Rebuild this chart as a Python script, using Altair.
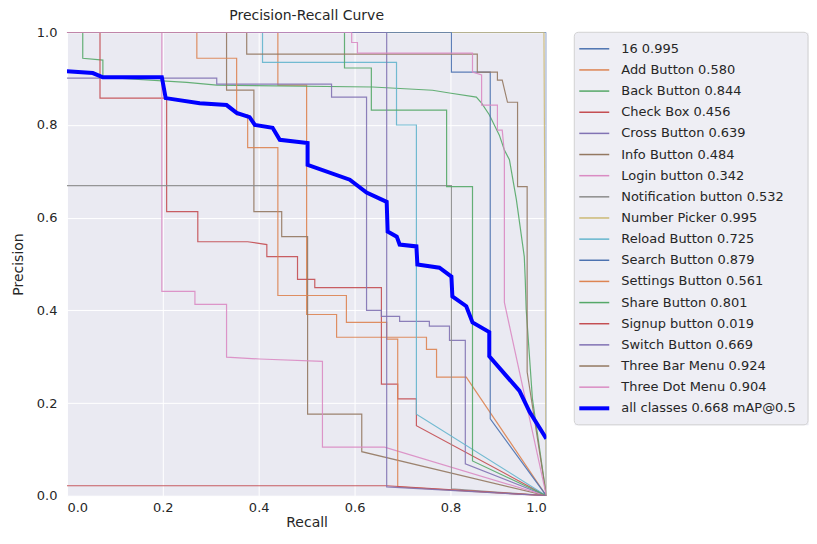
import altair as alt
import pandas as pd

# ---------------- data ----------------
CLASSES = ["16", "Add Button", "Back Button", "Check Box", "Cross Button",
           "Info Button", "Login button", "Notification button", "Number Picker",
           "Reload Button", "Search Button", "Settings Button", "Share Button",
           "Signup button", "Switch Button", "Three Bar Menu", "Three Dot Menu"]
AP = [0.995, 0.580, 0.844, 0.456, 0.639, 0.484, 0.342, 0.532, 0.995,
      0.725, 0.879, 0.561, 0.801, 0.019, 0.669, 0.924, 0.904]
COLORS = ["#4C72B0", "#DD8452", "#55A868", "#C44E52", "#8172B3", "#937860",
          "#DA8BC3", "#8C8C8C", "#CCB974", "#64B5CD", "#4C72B0", "#DD8452",
          "#55A868", "#C44E52", "#8172B3", "#937860", "#DA8BC3"]

R_16 = [0.0, 1.0, 1.0]
P_16 = [1.0, 1.0, 0.0]

R_ADD = [0.0, 0.440, 0.440, 0.500, 0.500, 0.5625, 0.5625, 0.750, 0.750, 0.771, 0.771, 0.833, 1.0]
P_ADD = [1.0, 1.0, 0.886, 0.886, 0.391, 0.391, 0.342, 0.342, 0.316, 0.316, 0.256, 0.256, 0.0]

R_BACK = [0.0, 0.033, 0.033, 0.075, 0.075, 0.250, 0.3125, 0.6375, 0.7625, 0.798, 0.854, 0.865,
          0.881, 0.902, 0.9125, 0.923, 0.9375, 0.954, 0.956, 0.958, 0.971, 1.0]
P_BACK = [1.0, 1.0, 0.944, 0.940, 0.903, 0.892, 0.886, 0.882, 0.875, 0.869, 0.860, 0.847,
          0.822, 0.778, 0.746, 0.725, 0.639, 0.516, 0.467, 0.402, 0.209, 0.0]

R_CHECK = [0.0, 0.069, 0.069, 0.208, 0.208, 0.273, 0.273, 0.377, 0.417, 0.417, 0.481, 0.481,
           0.517, 0.517, 0.656, 0.656, 0.690, 0.690, 0.729, 0.729, 1.0]
P_CHECK = [1.0, 1.0, 0.858, 0.858, 0.613, 0.613, 0.548, 0.548, 0.542, 0.516, 0.516, 0.467,
           0.467, 0.449, 0.449, 0.241, 0.241, 0.209, 0.209, 0.151, 0.0]

R_CROSS = [0.0, 0.3125, 0.3125, 0.552, 0.552, 0.625, 0.625, 0.656, 0.656, 0.694, 0.694, 0.756,
           0.756, 0.798, 0.798, 0.831, 0.831, 1.0]
P_CROSS = [0.901, 0.901, 0.888, 0.888, 0.860, 0.860, 0.400, 0.400, 0.387, 0.387, 0.376, 0.376,
           0.366, 0.366, 0.335, 0.335, 0.069, 0.0]

R_INFO = [0.0, 0.333, 0.333, 0.390, 0.390, 0.448, 0.448, 0.502, 0.502, 0.615, 0.615, 1.0]
P_INFO = [1.0, 1.0, 0.875, 0.875, 0.613, 0.613, 0.559, 0.559, 0.176, 0.176, 0.095, 0.0]

R_LOGIN = [0.0, 0.198, 0.198, 0.267, 0.267, 0.333, 0.333, 0.402, 0.533, 0.533, 0.6625, 1.0]
P_LOGIN = [1.0, 1.0, 0.441, 0.441, 0.413, 0.413, 0.299, 0.295, 0.290, 0.105, 0.105, 0.0]

R_NOTIF = [0.0, 0.802, 0.802, 1.0]
P_NOTIF = [0.669, 0.669, 0.015, 0.0]

R_NUMBER = [0.0, 0.995, 1.0]
P_NUMBER = [1.0, 1.0, 0.0]

R_RELOAD = [0.0, 0.408, 0.408, 0.6875, 0.6875, 0.729, 0.729, 1.0]
P_RELOAD = [1.0, 1.0, 0.935, 0.935, 0.800, 0.800, 0.176, 0.0]

R_SEARCH = [0.0, 0.802, 0.802, 0.883, 0.883, 1.0]
P_SEARCH = [1.0, 1.0, 0.914, 0.914, 0.166, 0.0]

R_SETTINGS = [0.0, 0.271, 0.271, 0.354, 0.354, 0.377, 0.377, 0.440, 0.440, 0.583, 0.583,
              0.667, 0.667, 0.690, 0.690, 1.0]
P_SETTINGS = [1.0, 1.0, 0.944, 0.944, 0.822, 0.822, 0.751, 0.751, 0.432, 0.432, 0.374,
              0.374, 0.338, 0.338, 0.019, 0.0]

R_SHARE = [0.0, 0.579, 0.579, 0.635, 0.635, 0.792, 0.792, 0.846, 0.846, 1.0]
P_SHARE = [1.0, 1.0, 0.923, 0.923, 0.832, 0.832, 0.667, 0.667, 0.075, 0.0]

R_SIGNUP = [0.0, 0.667, 1.0]
P_SIGNUP = [0.0215, 0.0215, 0.0]

R_SWITCH = [0.0, 0.667, 0.667, 1.0]
P_SWITCH = [1.0, 1.0, 0.019, 0.0]

R_THREEBAR = [0.0, 0.375, 0.375, 0.856, 0.856, 0.898, 0.898, 0.908, 0.919, 0.940, 0.940,
              0.960, 0.960, 1.0]
P_THREEBAR = [1.0, 1.0, 0.953, 0.953, 0.914, 0.914, 0.897, 0.897, 0.849, 0.849, 0.667,
              0.667, 0.267, 0.0]

R_THREEDOT = [0.0, 0.594, 0.594, 0.606, 0.606, 0.846, 0.846, 0.865, 0.865, 0.898, 0.898,
              0.908, 0.9125, 0.9125, 1.0]
P_THREEDOT = [1.0, 1.0, 0.978, 0.978, 0.955, 0.955, 0.914, 0.908, 0.843, 0.843, 0.789,
              0.789, 0.740, 0.417, 0.0]

R_MEAN = [0.0, 0.054, 0.075, 0.198, 0.206, 0.277, 0.333, 0.354, 0.381, 0.392, 0.429, 0.444,
          0.502, 0.502, 0.590, 0.625, 0.667, 0.669, 0.688, 0.694, 0.729, 0.731, 0.777, 0.802,
          0.804, 0.833, 0.846, 0.881, 0.881, 0.917, 0.944, 0.965, 1.0]
P_MEAN = [0.916, 0.912, 0.903, 0.903, 0.858, 0.847, 0.843, 0.826, 0.817, 0.800, 0.794, 0.768,
          0.761, 0.714, 0.682, 0.654, 0.634, 0.570, 0.559, 0.542, 0.538, 0.499, 0.492, 0.473,
          0.430, 0.409, 0.374, 0.353, 0.301, 0.258, 0.226, 0.181, 0.123]
MEAN_LABEL = "all classes 0.668 mAP@0.5"

CURVES = [(R_16, P_16), (R_ADD, P_ADD), (R_BACK, P_BACK), (R_CHECK, P_CHECK),
          (R_CROSS, P_CROSS), (R_INFO, P_INFO), (R_LOGIN, P_LOGIN), (R_NOTIF, P_NOTIF),
          (R_NUMBER, P_NUMBER), (R_RELOAD, P_RELOAD), (R_SEARCH, P_SEARCH),
          (R_SETTINGS, P_SETTINGS), (R_SHARE, P_SHARE), (R_SIGNUP, P_SIGNUP),
          (R_SWITCH, P_SWITCH), (R_THREEBAR, P_THREEBAR), (R_THREEDOT, P_THREEDOT)]

TICKS = [0.0, 0.2, 0.4, 0.6, 0.8, 1.0]

# ---------------- build tables ----------------
labels = [f"{c} {a:.3f}" for c, a in zip(CLASSES, AP)]
rows = []
for lab, (rr, pp) in zip(labels, CURVES):
    for i, (r, p) in enumerate(zip(rr, pp)):
        rows.append({"series": lab, "i": i, "recall": r, "precision": p})
df_cls = pd.DataFrame(rows)
df_mean = pd.DataFrame({"recall": R_MEAN, "precision": P_MEAN, "i": list(range(len(R_MEAN)))})

FONT = "DejaVu Sans"
TXT = "#262626"

xenc = alt.X("recall:Q", scale=alt.Scale(domain=[0, 1], nice=False, zero=False),
             axis=alt.Axis(values=TICKS, format=".1f", title="Recall",
                           labelPadding=6, titlePadding=1))
yenc = alt.Y("precision:Q", scale=alt.Scale(domain=[0, 1], nice=False, zero=False),
             axis=alt.Axis(values=TICKS, format=".1f", title="Precision",
                           labelPadding=10, titlePadding=11))

cls_lines = alt.Chart(df_cls).mark_line(strokeWidth=1.2, clip=True, opacity=0.9).encode(
    x=xenc, y=yenc,
    color=alt.Color("series:N", scale=alt.Scale(domain=labels, range=COLORS), legend=None),
    order=alt.Order("i:Q"),
)
mean_line = alt.Chart(df_mean).mark_line(strokeWidth=4, color="#0000FF", clip=True).encode(
    x="recall:Q", y="precision:Q", order=alt.Order("i:Q"),
)
main = alt.layer(cls_lines, mean_line).properties(
    width=480, height=464,
    title=alt.Title("Precision-Recall Curve", font=FONT, fontSize=14, fontWeight="normal",
                    color=TXT, offset=3),
)

# ---------------- legend panel ----------------
leg_labels = labels + [MEAN_LABEL]
leg_colors = COLORS + ["#0000FF"]
leg_widths = [1.5] * len(labels) + [4]
leg_df = pd.DataFrame({"label": leg_labels, "col": leg_colors, "w": leg_widths})

LEG_W = 234
LEG_H = 393
leg_y = alt.Y("label:N", sort=leg_labels, scale=alt.Scale(type="point", padding=0.78), axis=None)
box = alt.Chart(pd.DataFrame({"k": [0]})).mark_rect(
    fill="#EEEEF4", stroke="#D2D2D2", strokeWidth=1, cornerRadius=4
).encode(x=alt.value(0), x2=alt.value(LEG_W), y=alt.value(0), y2=alt.value(LEG_H))
sym = alt.Chart(leg_df).mark_rule().encode(
    x=alt.value(5), x2=alt.value(35), y=leg_y,
    color=alt.Color("col:N", scale=None),
    strokeWidth=alt.StrokeWidth("w:Q", scale=None),
)
txt = alt.Chart(leg_df).mark_text(align="left", baseline="middle", font=FONT, fontSize=13,
                                  color=TXT).encode(
    x=alt.value(47), y=leg_y, text="label:N"
)
legend = alt.layer(box, sym, txt).properties(width=LEG_W, height=LEG_H)

chart = alt.hconcat(main, legend, spacing=28, bounds="flush").properties(
    padding={"left": 2, "top": 0, "right": 0, "bottom": 0}
).configure(background="white").configure_view(
    fill="#EAEAF2", stroke="transparent"
).configure_axis(
    grid=True, gridColor="white", gridWidth=1, domain=False, ticks=False,
    labelFont=FONT, labelFontSize=13, labelColor=TXT,
    titleFont=FONT, titleFontSize=14, titleFontWeight="normal", titleColor=TXT,
)

chart.save("out.html", embed_options={"renderer": "svg", "actions": False})
